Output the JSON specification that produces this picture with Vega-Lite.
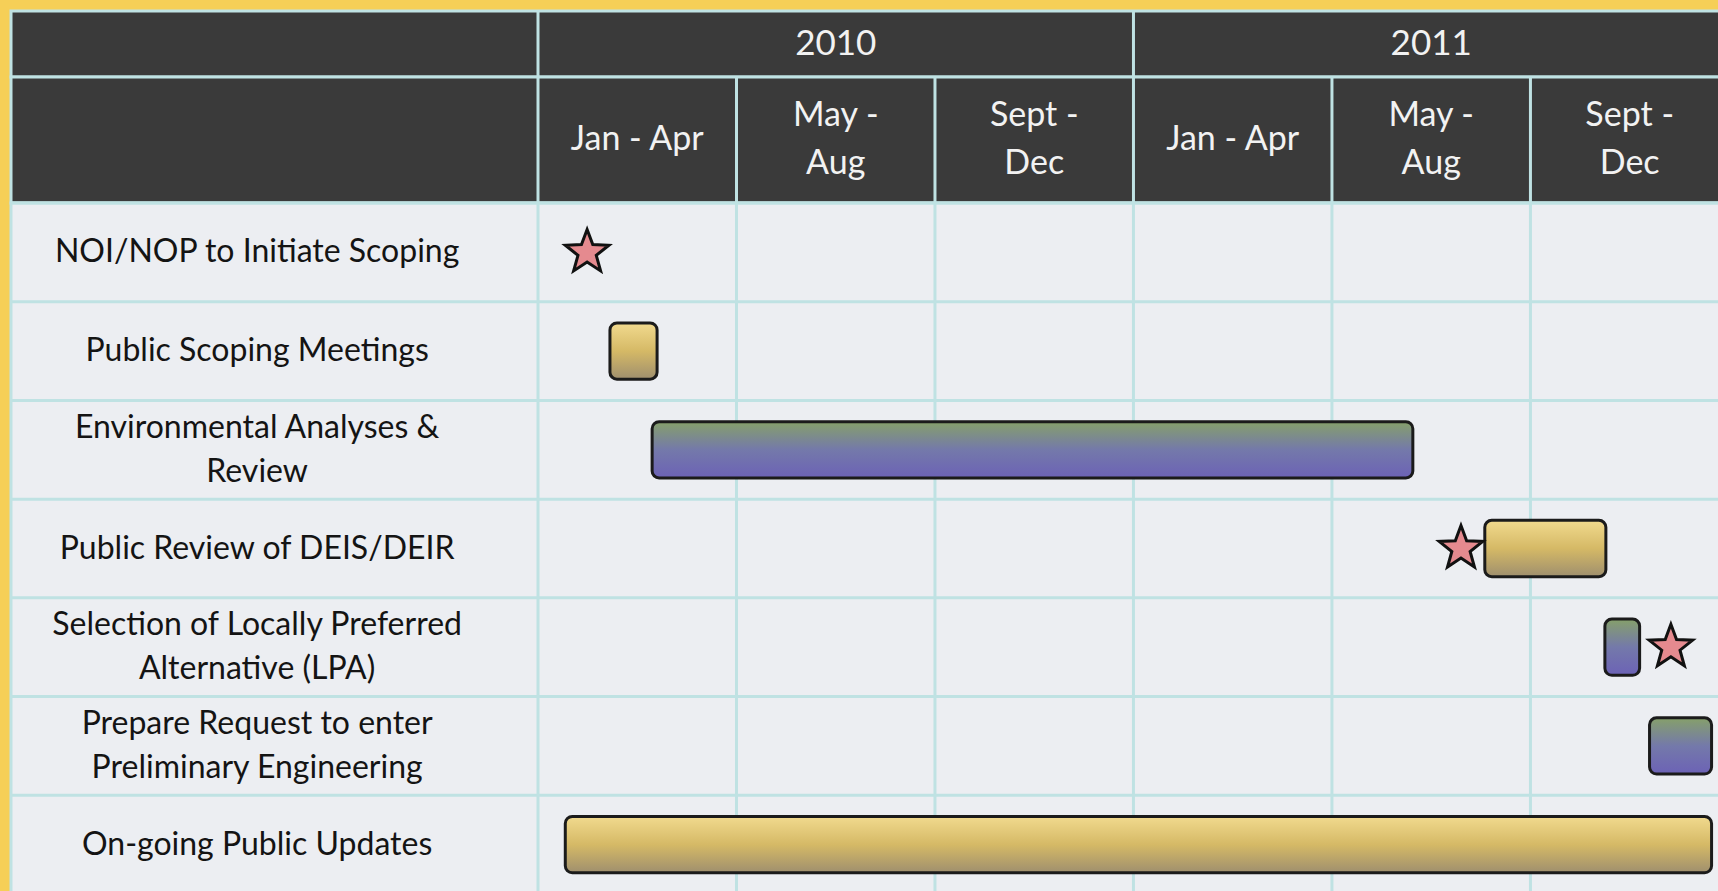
{
  "$schema": "https://vega.github.io/schema/vega-lite/v6.json",
  "background": "#f6cf57",
  "padding": {"left": 8, "top": 8, "right": 0, "bottom": 0},
  "spacing": 0,
  "bounds": "flush",
  "config": {
    "view": {"stroke": "#bfe2e3", "strokeWidth": 3},
    "font": "Lato",
    "text": {"font": "Lato"}
  },
  "datasets": {
    "years": [
      {"year": "2010", "mid": 6},
      {"year": "2011", "mid": 18}
    ],
    "yearLines": [{"m": 0}, {"m": 12}, {"m": 24}],
    "periods": [
      {"period": "Jan - Apr", "mid": 2},
      {"period": "May -\nAug", "mid": 6},
      {"period": "Sept -\nDec", "mid": 10},
      {"period": "Jan - Apr", "mid": 14},
      {"period": "May -\nAug", "mid": 18},
      {"period": "Sept -\nDec", "mid": 22}
    ],
    "periodLines": [{"m": 0}, {"m": 4}, {"m": 8}, {"m": 12}, {"m": 16}, {"m": 20}, {"m": 24}],
    "tasks": [
      {"task": "NOI/NOP to Initiate Scoping", "label": "NOI/NOP to Initiate Scoping"},
      {"task": "Public Scoping Meetings", "label": "Public Scoping Meetings"},
      {"task": "Environmental Analyses & Review", "label": "Environmental Analyses &\nReview"},
      {"task": "Public Review of DEIS/DEIR", "label": "Public Review of DEIS/DEIR"},
      {"task": "Selection of Locally Preferred Alternative (LPA)", "label": "Selection of Locally Preferred\nAlternative (LPA)"},
      {"task": "Prepare Request to enter Preliminary Engineering", "label": "Prepare Request to enter\nPreliminary Engineering"},
      {"task": "On-going Public Updates", "label": "On-going Public Updates"}
    ],
    "bars": [
      {"task": "Public Scoping Meetings", "start": 1.45, "end": 2.4, "kind": "public"},
      {"task": "Environmental Analyses & Review", "start": 2.3, "end": 17.63, "kind": "technical"},
      {"task": "Public Review of DEIS/DEIR", "start": 19.08, "end": 21.52, "kind": "public"},
      {"task": "Selection of Locally Preferred Alternative (LPA)", "start": 21.5, "end": 22.2, "kind": "technical"},
      {"task": "Prepare Request to enter Preliminary Engineering", "start": 22.4, "end": 23.65, "kind": "technical"},
      {"task": "On-going Public Updates", "start": 0.55, "end": 23.65, "kind": "public"}
    ],
    "milestones": [
      {"task": "NOI/NOP to Initiate Scoping", "at": 0.99},
      {"task": "Public Review of DEIS/DEIR", "at": 18.6},
      {"task": "Selection of Locally Preferred Alternative (LPA)", "at": 22.83}
    ]
  },
  "vconcat": [
    {
      "width": 1710,
      "height": 66,
      "view": {"fill": "#3a3a3a"},
      "layer": [
        {
          "data": {"name": "yearLines"},
          "mark": {"type": "rule", "color": "#bfe2e3", "strokeWidth": 3},
          "encoding": {
            "x": {"field": "m", "type": "quantitative", "scale": {"domain": [-10.62, 23.84], "nice": false, "zero": false}, "axis": null}
          }
        },
        {
          "data": {"name": "years"},
          "mark": {"type": "text", "fontSize": 35, "color": "#f2f2f2", "align": "center", "baseline": "middle"},
          "encoding": {
            "x": {"field": "mid", "type": "quantitative", "scale": {"domain": [-10.62, 23.84], "nice": false, "zero": false}, "axis": null},
            "text": {"field": "year", "type": "nominal"}
          }
        }
      ]
    },
    {
      "width": 1710,
      "height": 126,
      "view": {"fill": "#3a3a3a"},
      "layer": [
        {
          "data": {"name": "periodLines"},
          "mark": {"type": "rule", "color": "#bfe2e3", "strokeWidth": 3},
          "encoding": {
            "x": {"field": "m", "type": "quantitative", "scale": {"domain": [-10.62, 23.84], "nice": false, "zero": false}, "axis": null}
          }
        },
        {
          "data": {"name": "periods"},
          "transform": [{"filter": "indexof(datum.period, '\\n') < 0"}],
          "mark": {"type": "text", "fontSize": 34, "color": "#f2f2f2", "align": "center", "baseline": "middle"},
          "encoding": {
            "x": {"field": "mid", "type": "quantitative", "scale": {"domain": [-10.62, 23.84], "nice": false, "zero": false}, "axis": null},
            "text": {"field": "period", "type": "nominal"}
          }
        },
        {
          "data": {"name": "periods"},
          "transform": [{"filter": "indexof(datum.period, '\\n') >= 0"}],
          "mark": {"type": "text", "fontSize": 34, "color": "#f2f2f2", "align": "center", "baseline": "middle", "lineBreak": "\n", "lineHeight": 48, "dy": -24},
          "encoding": {
            "x": {"field": "mid", "type": "quantitative", "scale": {"domain": [-10.62, 23.84], "nice": false, "zero": false}, "axis": null},
            "text": {"field": "period", "type": "nominal"}
          }
        }
      ]
    },
    {
      "width": 1710,
      "height": 691,
      "view": {"fill": "#eceef2"},
      "layer": [
        {
          "data": {"name": "periodLines"},
          "mark": {"type": "rule", "color": "#bfe2e3", "strokeWidth": 3},
          "encoding": {
            "x": {"field": "m", "type": "quantitative", "scale": {"domain": [-10.62, 23.84], "nice": false, "zero": false}, "axis": null}
          }
        },
        {
          "data": {"name": "tasks"},
          "mark": {"type": "rule", "color": "#bfe2e3", "strokeWidth": 3},
          "encoding": {
            "y": {"field": "task", "type": "nominal", "bandPosition": 0, "axis": null,
                  "scale": {"domain": ["NOI/NOP to Initiate Scoping", "Public Scoping Meetings", "Environmental Analyses & Review", "Public Review of DEIS/DEIR", "Selection of Locally Preferred Alternative (LPA)", "Prepare Request to enter Preliminary Engineering", "On-going Public Updates"], "paddingInner": 0, "paddingOuter": 0}}
          }
        },
        {
          "data": {"name": "tasks"},
          "transform": [{"filter": "indexof(datum.label, '\\n') < 0"}],
          "mark": {"type": "text", "fontSize": 32, "color": "#141414", "align": "center", "baseline": "middle"},
          "encoding": {
            "x": {"datum": -5.66, "type": "quantitative"},
            "y": {"field": "task", "type": "nominal"},
            "text": {"field": "label", "type": "nominal"}
          }
        },
        {
          "data": {"name": "tasks"},
          "transform": [{"filter": "indexof(datum.label, '\\n') >= 0"}],
          "mark": {"type": "text", "fontSize": 32, "color": "#141414", "align": "center", "baseline": "middle", "lineBreak": "\n", "lineHeight": 44, "dy": -22},
          "encoding": {
            "x": {"datum": -5.66, "type": "quantitative"},
            "y": {"field": "task", "type": "nominal"},
            "text": {"field": "label", "type": "nominal"}
          }
        },
        {
          "data": {"name": "bars"},
          "transform": [{"filter": "datum.kind === 'public'"}],
          "mark": {"type": "bar", "height": {"band": 0.57}, "cornerRadius": 7, "stroke": "#1b1b1b", "strokeWidth": 3,
                   "fill": {"gradient": "linear", "x1": 0, "y1": 0, "x2": 0, "y2": 1,
                            "stops": [{"offset": 0, "color": "#f1da8e"}, {"offset": 0.5, "color": "#d5b966"}, {"offset": 1, "color": "#9f8f6e"}]}},
          "encoding": {
            "x": {"field": "start", "type": "quantitative"},
            "x2": {"field": "end"},
            "y": {"field": "task", "type": "nominal"}
          }
        },
        {
          "data": {"name": "bars"},
          "transform": [{"filter": "datum.kind === 'technical'"}],
          "mark": {"type": "bar", "height": {"band": 0.57}, "cornerRadius": 7, "stroke": "#1b1b1b", "strokeWidth": 3,
                   "fill": {"gradient": "linear", "x1": 0, "y1": 0, "x2": 0, "y2": 1,
                            "stops": [{"offset": 0, "color": "#86a06a"}, {"offset": 0.5, "color": "#7479aa"}, {"offset": 1, "color": "#6c62b6"}]}},
          "encoding": {
            "x": {"field": "start", "type": "quantitative"},
            "x2": {"field": "end"},
            "y": {"field": "task", "type": "nominal"}
          }
        },
        {
          "data": {"name": "milestones"},
          "mark": {"type": "point", "filled": true, "shape": "M0,-1L0.247,-0.34L0.951,-0.309L0.399,0.13L0.588,0.809L0,0.42L-0.588,0.809L-0.399,0.13L-0.951,-0.309L-0.247,-0.34Z",
                   "size": 2100, "fill": "#e58a8f", "fillOpacity": 1, "stroke": "#111111", "strokeWidth": 3, "opacity": 1},
          "encoding": {
            "x": {"field": "at", "type": "quantitative"},
            "y": {"field": "task", "type": "nominal"}
          }
        }
      ]
    }
  ]
}
